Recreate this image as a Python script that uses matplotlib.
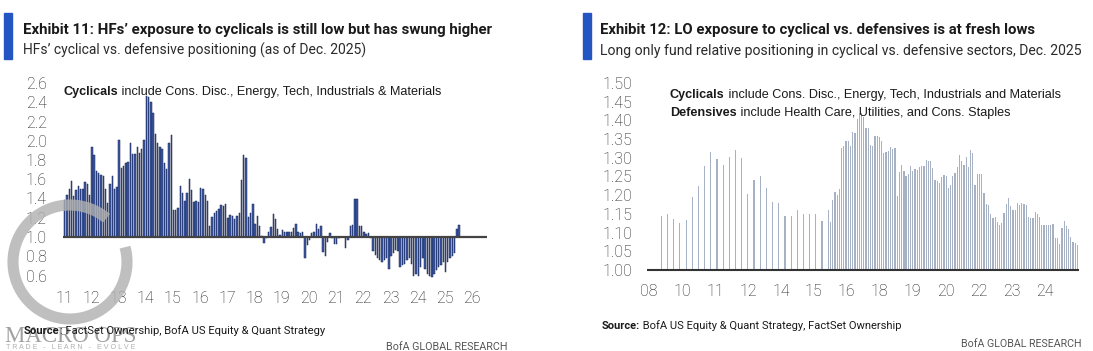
"""
Two BofA exhibits side by side: HF and LO cyclical vs. defensive positioning.
"""

import matplotlib
matplotlib.use('Agg')
import matplotlib.pyplot as plt
from matplotlib import font_manager
from matplotlib.patches import Rectangle, Arc
import numpy as np


#==============================================================================
# Data.
#==============================================================================
# Exhibit 11: monthly HF cyclical / defensive ratio, from Jan 2011
hf_start = 2011
hf_ratio = [
    1.38, 1.44, 1.50, 1.58, 1.43, 1.49, 1.53, 1.50, 1.50, 1.57,
    1.55, 1.44, 1.94, 1.85, 1.69, 1.66, 1.64, 1.63, 1.50, 1.35,
    1.55, 1.63, 1.50, 1.52, 2.01, 1.72, 1.74, 1.77, 1.78, 1.98,
    1.86, 1.86, 1.94, 1.87, 1.91, 2.01, 2.47, 2.45, 2.40, 2.29,
    2.07, 1.98, 1.94, 1.91, 1.77, 1.71, 1.98, 2.06,
    1.28, 1.28, 1.30, 1.53, 1.46, 1.37, 1.46, 1.60, 1.49, 1.36,
    1.37, 1.36, 1.51, 1.50, 1.44, 1.37, 1.11, 1.21, 1.25, 1.27,
    1.29, 1.33, 1.32, 1.34, 1.20, 1.23, 1.22, 1.19, 1.22, 1.25,
    1.59, 1.85, 1.82, 1.21, 1.25, 1.34, 1.14, 1.22, 1.11, 1.01,
    0.94, 0.99, 1.05, 1.10,
    1.24, 1.19, 1.08, 1.02, 1.07, 1.05, 1.05, 1.05, 1.055, 1.09,
    1.14, 1.05, 1.04, 1.05, 0.78, 0.92, 0.97, 1.04, 1.055, 1.14,
    1.08, 1.11, 0.84, 0.80, 0.95, 1.045, 0.99, 0.93, 0.93, 0.99,
    1.00, 1.00, 0.89, 0.97, 1.11, 1.125, 1.40, 1.40, 1.11, 1.11,
    1.055, 1.03, 1.04, 0.99,
    0.85, 0.81, 0.78, 0.76, 0.74, 0.76, 0.78, 0.67, 0.80, 0.83,
    0.865, 0.85, 0.69, 0.71, 0.72, 0.76, 0.78, 0.72, 0.59, 0.62,
    0.59, 0.69, 0.78, 0.67, 0.62, 0.59, 0.58, 0.62, 0.66, 0.69,
    0.71, 0.74, 0.64, 0.74, 0.78, 0.80, 0.83, 1.08, 1.125,
]
hf_years = list(range(2011, 2027))

# Exhibit 12: LO relative positioning. Months counted from the first axis tick.
lo_q_first = 6          # first quarterly observation (month index)
lo_quarterly = [
    1.145, 1.149, 1.136, 1.125, 1.134, 1.194, 1.225, 1.279, 1.315, 1.296,
    1.281, 1.303, 1.321, 1.300, 1.202, 1.240, 1.250, 1.219, 1.183, 1.180,
    1.145, 1.145, 1.160, 1.150, 1.150, 1.150, 1.132,
]
lo_m_first, lo_m_last = 87, 208   # span of the dense (monthly) observations
lo_monthly = [
    1.160, 1.129, 1.187, 1.209, 1.200, 1.216, 1.325, 1.332, 1.345, 1.345,
    1.332, 1.370, 1.365, 1.405, 1.420, 1.419, 1.410, 1.379, 1.380, 1.334,
    1.332, 1.358, 1.358, 1.356, 1.346, 1.314, 1.316, 1.317, 1.330, 1.324,
    1.327, 1.198, 1.263, 1.281, 1.266, 1.251, 1.257, 1.279, 1.266, 1.269,
    1.267, 1.275, 1.278, 1.278, 1.294, 1.291, 1.291, 1.274, 1.241, 1.239,
    1.233, 1.248, 1.254, 1.251, 1.218, 1.227, 1.251, 1.259, 1.276, 1.307,
    1.292, 1.281, 1.301, 1.276, 1.321, 1.312, 1.227, 1.257, 1.257, 1.256,
    1.205, 1.176, 1.174, 1.150, 1.138, 1.143, 1.129, 1.120, 1.125, 1.152,
    1.176, 1.192, 1.172, 1.160, 1.160, 1.180, 1.174, 1.180, 1.177, 1.174,
    1.141, 1.138, 1.138, 1.156, 1.150, 1.143, 1.120, 1.120, 1.120, 1.120,
    1.120, 1.123, 1.085, 1.085, 1.070, 1.111, 1.132, 1.118, 1.109, 1.089,
    1.076, 1.071, 1.067,
]
lo_tick_labels = ['08', '10', '11', '12', '14', '15', '16', '18', '19', '20',
                  '22', '23', '24']
lo_tick_step = 16       # months between labelled ticks


#==============================================================================
# Fonts / helpers.
#==============================================================================
names = {f.name for f in font_manager.fontManager.ttflist}
NARROW = 'Liberation Sans Narrow' if 'Liberation Sans Narrow' in names else 'Roboto'
SANS = 'Liberation Sans'
TICK = 'Roboto'

W, H = 1093, 351
fig = plt.figure(figsize=(W / 100, H / 100), dpi=100)
R = fig.canvas.get_renderer()


def px_axes(x0, y0, x1, y1):
    """axes from pixel box (y measured from top)"""
    return fig.add_axes([x0 / W, 1 - y1 / H, (x1 - x0) / W, (y1 - y0) / H])


def rich(x, y, parts, size, family, color='#1a1a1a', width=None, ha='left', z=3):
    """line of text made of (string, weight) parts; optionally fit to width px"""
    def place(sz):
        objs, cx = [], x
        for s, wgt in parts:
            t = fig.text(cx / W, 1 - y / H, s, fontsize=sz, family=family,
                         weight=wgt, color=color, va='baseline', ha='left', zorder=z)
            cx += t.get_window_extent(R).width
            objs.append(t)
        return objs, cx - x
    objs, w = place(size)
    if width:
        for o in objs:
            o.remove()
        objs, w = place(size * width / w)
    if ha == 'right':
        for o in objs:
            px, py = o.get_position()
            o.set_position((px - w / W, py))
    return objs


def style_ticks(ax, ypad, xpad):
    ax.tick_params(axis='y', length=0, pad=ypad)
    ax.tick_params(axis='x', length=0, pad=xpad)
    for lab in ax.get_xticklabels() + ax.get_yticklabels():
        lab.set_family(TICK)
        lab.set_weight('light')
        lab.set_fontsize(11.5)
        lab.set_color('#1e1e1e')
    for s in ax.spines.values():
        s.set_visible(False)
    ax.patch.set_alpha(0)


#==============================================================================
# Exhibit 11 (left).
#==============================================================================
fig.patches.append(Rectangle((4 / W, 1 - 59 / H), 8 / W, 46 / H,
                             transform=fig.transFigure, color='#2456c3'))
rich(23, 34, [('Exhibit 11: HFs\u2019 exposure to cyclicals is still low but has swung higher', 'bold')],
     13, NARROW, width=471)
rich(23, 55, [('HFs\u2019 cyclical vs. defensive positioning (as of Dec. 2025)', 'normal')],
     12, NARROW, color='#2a2a2a', width=343)

# year -> px : 64 + 27.2*(yr-2011);  value -> px : 237 - 96.25*(v-1)
x0, x1 = 2010.96, 2026.55
y0, y1 = 0.55, 2.65
ax1 = px_axes(64 + 27.2 * (x0 - 2011), 237 - 96.25 * (y1 - 1),
              64 + 27.2 * (x1 - 2011), 237 - 96.25 * (y0 - 1))
hf = np.array(hf_ratio)
hx = hf_start + np.arange(len(hf)) / 12.0
ax1.bar(hx, hf - 1, bottom=1, width=0.052, align='edge', color='#3d5ca6',
        edgecolor='#16224f', linewidth=0.35, zorder=2)
ax1.axhline(1.0, color='#444444', lw=1.6, zorder=3)
ax1.set_xlim(x0, x1)
ax1.set_ylim(y0, y1)
ax1.set_yticks(np.arange(0.6, 2.61, 0.2))
ax1.set_yticklabels(['%.1f' % v for v in np.arange(0.6, 2.61, 0.2)])
ax1.set_xticks(hf_years)
ax1.set_xticklabels(['%02d' % (y % 100) for y in hf_years])
style_ticks(ax1, 11.5, 8)

rich(63, 95, [('Cyclicals', 'bold'),
              (' include Cons. Disc., Energy, Tech, Industrials & Materials', 'normal')],
     9, SANS, width=380)

# watermark
fig.patches.append(Arc((70 / W, 1 - 262 / H), 114 / W, 114 / H, angle=0,
                       theta1=75, theta2=40, transform=fig.transFigure,
                       color='#b0b0b0', lw=8, alpha=0.8, zorder=1))
rich(5, 342, [('MACRO OPS', 'normal')], 14, 'Liberation Serif',
     color='#a0a0a0', width=132, z=1)
rich(6, 349, [('T R A D E   -   L E A R N   -   E V O L V E', 'normal')], 4, SANS,
     color='#b0b0b0', width=128, z=1)

rich(24, 334, [('Source', 'bold'), (': FactSet Ownership, BofA US Equity & Quant Strategy', 'normal')],
     9, NARROW, color='#1a1a1a', width=303, z=4)
rich(507, 350, [('BofA GLOBAL RESEARCH', 'normal')], 9, NARROW,
     color='#555555', width=121, ha='right')


#==============================================================================
# Exhibit 12 (right).
#==============================================================================
fig.patches.append(Rectangle((582.5 / W, 1 - 59 / H), 8 / W, 46 / H,
                             transform=fig.transFigure, color='#2456c3'))
rich(600, 34, [('Exhibit 12: LO exposure to cyclical vs. defensives is at fresh lows', 'bold')],
     13, NARROW, width=437)
rich(600, 55, [('Long only fund relative positioning in cyclical vs. defensive sectors, Dec. 2025', 'normal')],
     12, NARROW, color='#2a2a2a', width=482)

# month -> px : 649 + 2.06*m ; value -> px : 270 - 374*(v-1)
m0, m1 = -1.0, 208.8
v0, v1 = 0.995, 1.505
ax2 = px_axes(649 + 2.06 * m0, 270 - 374 * (v1 - 1),
              649 + 2.06 * m1, 270 - 374 * (v0 - 1))
q = np.array(lo_quarterly)
mth = np.array(lo_monthly)
qx = lo_q_first + 3 * np.arange(len(q))
mx = np.linspace(lo_m_first, lo_m_last, len(mth))
ax2.bar(qx, q - 1, bottom=1, width=0.55, color='#a7b1c4', linewidth=0, zorder=2)
ax2.bar(mx, mth - 1, bottom=1, width=0.6, color='#a7b1c4', linewidth=0, zorder=2)
ax2.axhline(1.0, color='#333333', lw=1.5, zorder=3)
ax2.set_xlim(m0, m1)
ax2.set_ylim(v0, v1)
yt = np.arange(1.0, 1.501, 0.05)
ax2.set_yticks(yt)
ax2.set_yticklabels(['%.2f' % v for v in yt])
ax2.set_xticks(lo_tick_step * np.arange(len(lo_tick_labels)))
ax2.set_xticklabels(lo_tick_labels)
style_ticks(ax2, 10.5, 9)

rich(670, 98, [('Cyclicals', 'bold'),
               (' include Cons. Disc., Energy, Tech, Industrials and Materials', 'normal')],
     9, SANS, width=393)
rich(670, 116, [('Defensives', 'bold'),
                (' include Health Care, Utilities, and Cons. Staples', 'normal')],
     9, SANS, width=342)

rich(602, 329, [('Source:', 'bold'), (' BofA US Equity & Quant Strategy, FactSet Ownership', 'normal')],
     9, NARROW, color='#1a1a1a', width=301)
rich(1082, 347, [('BofA GLOBAL RESEARCH', 'normal')], 9, NARROW,
     color='#555555', width=120, ha='right')

fig.savefig('out.png', dpi=100)
